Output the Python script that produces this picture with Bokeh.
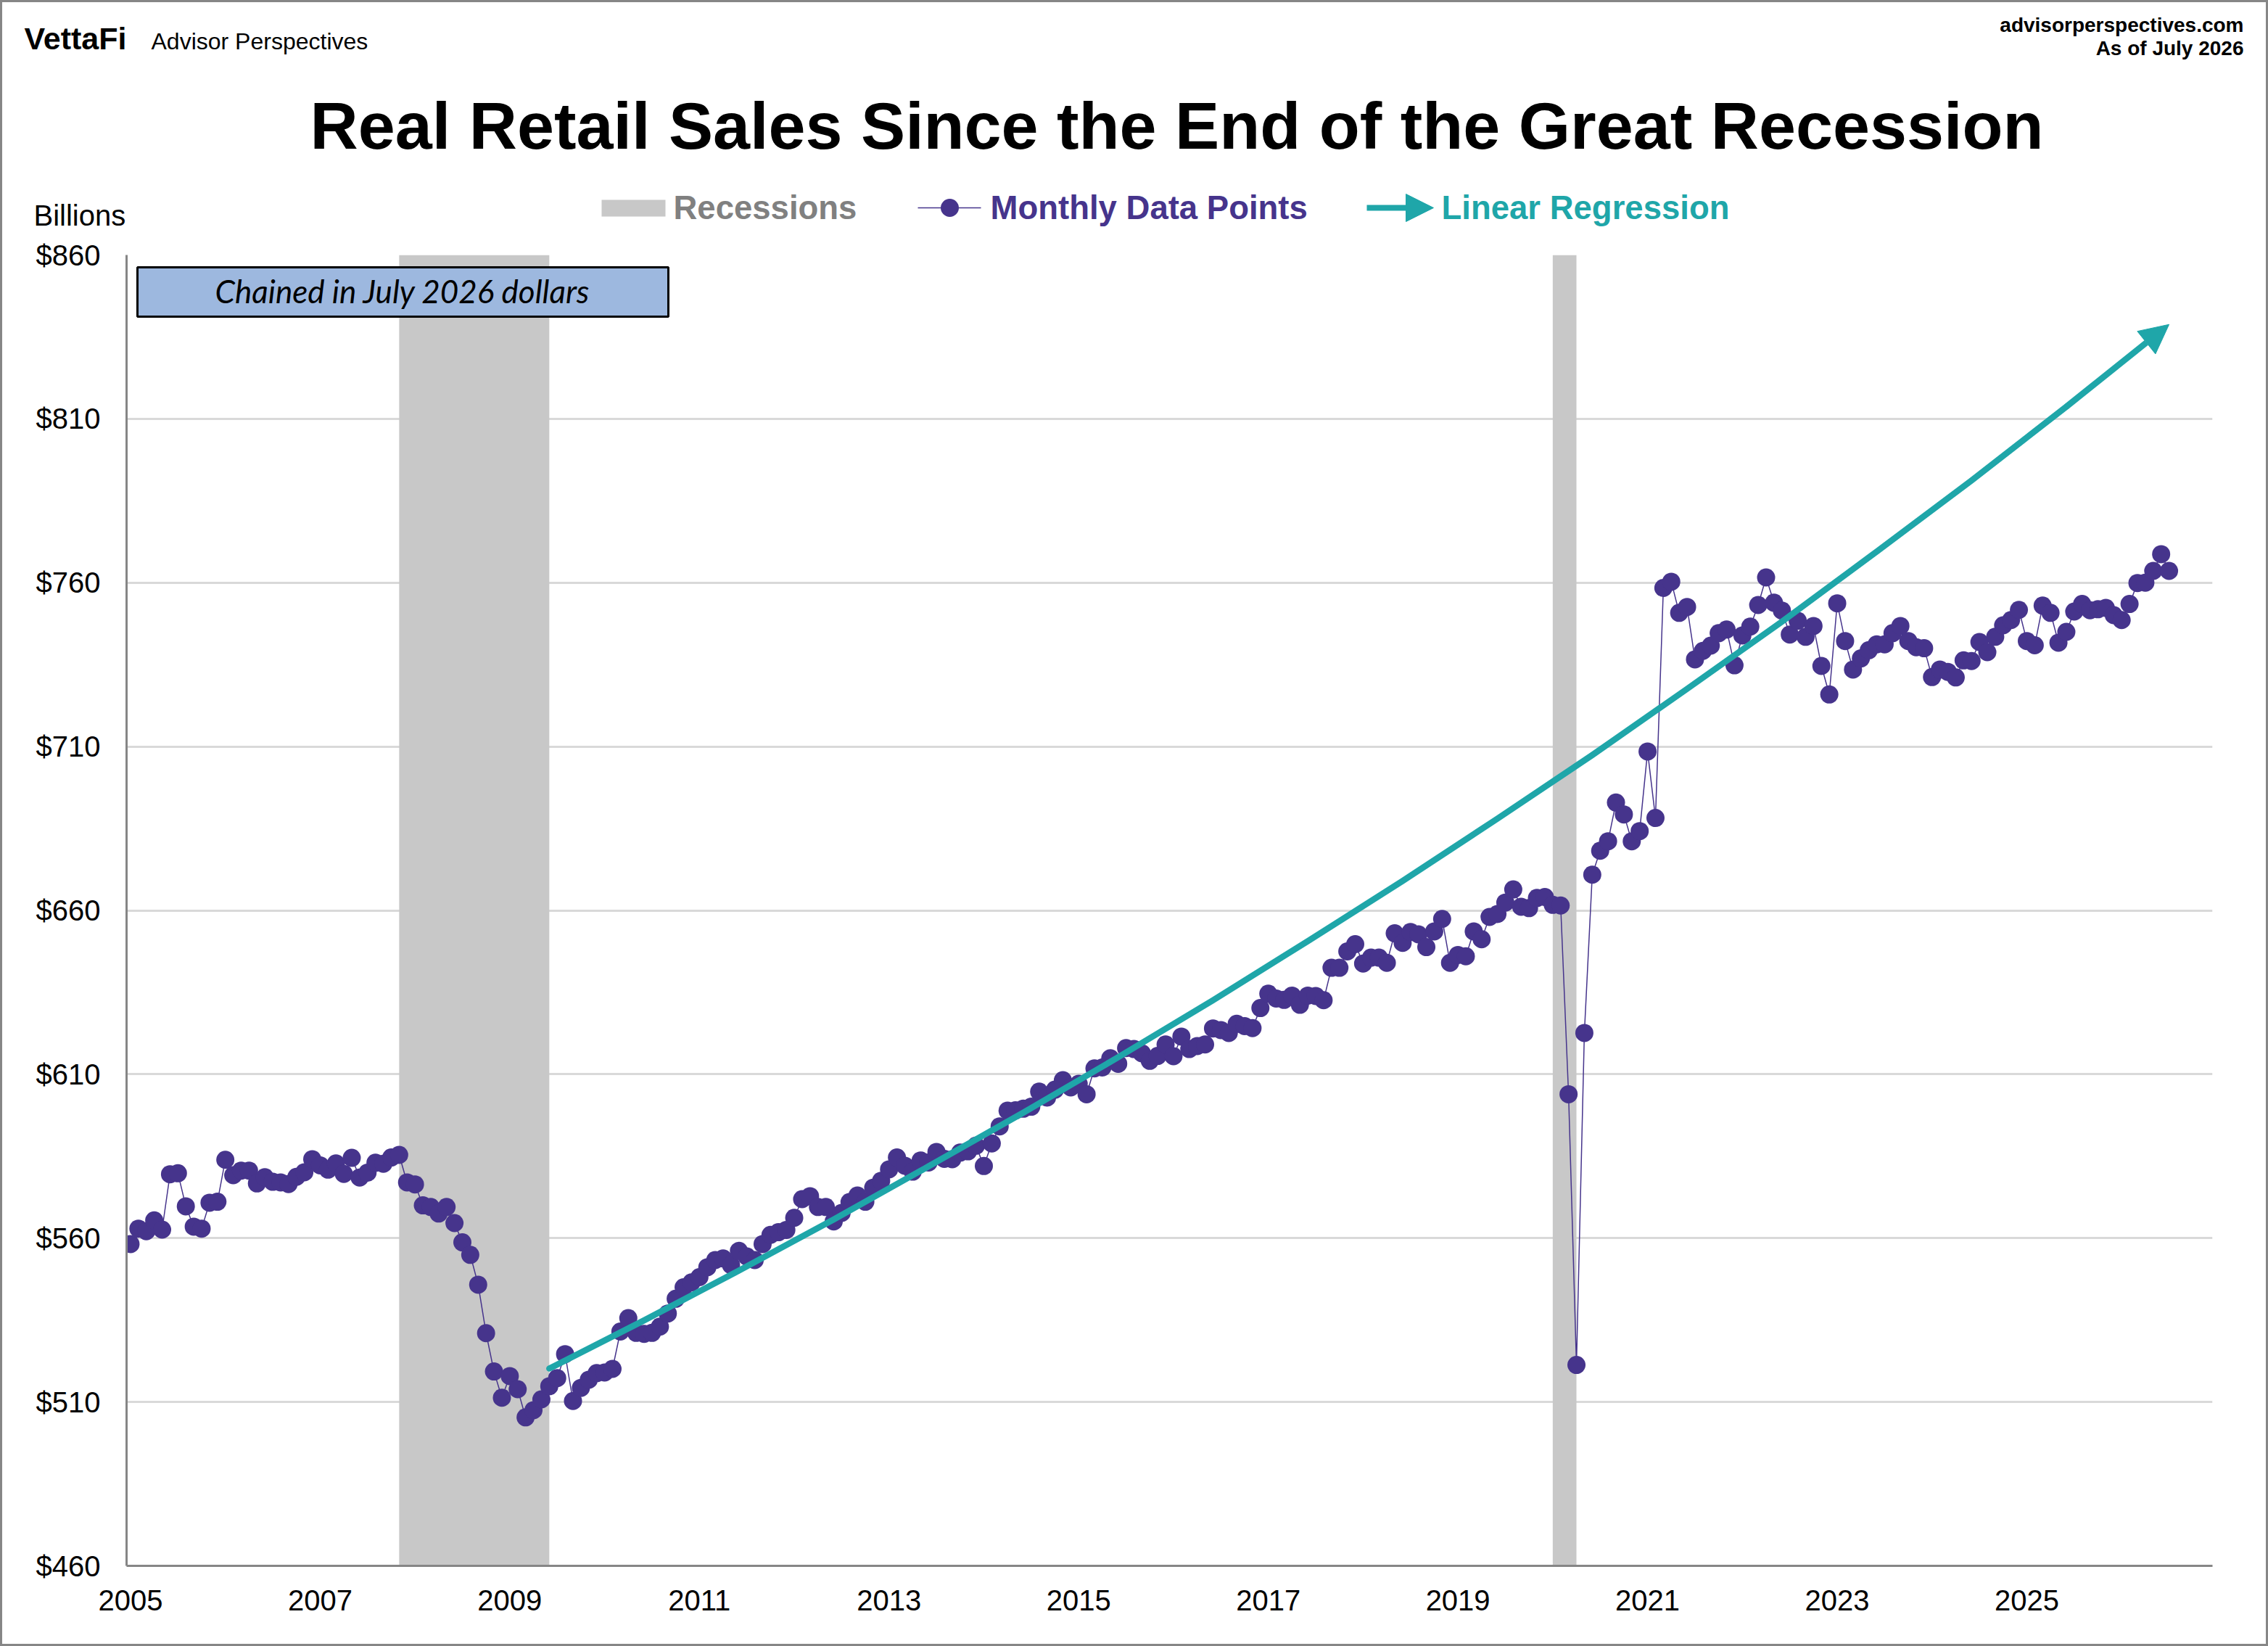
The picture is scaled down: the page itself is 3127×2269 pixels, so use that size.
from bokeh.embed import file_html
from bokeh.layouts import column
from bokeh.models import (Arrow, BoxAnnotation, FixedTicker, Label, NormalHead,
                          NumeralTickFormatter, Range1d)
from bokeh.plotting import figure
from bokeh.resources import INLINE

# Monthly real retail sales, $bn, Jan 2005 - Jul 2026
monthly_values = [
    558.2, 562.9, 562.1, 565.4, 562.6, 579.5, 579.8, 569.7, 563.5, 562.9, 570.8, 571.1,
    583.9, 579.2, 580.6, 580.6, 576.7, 578.6, 577.2, 577.0, 576.5, 578.7, 580.1, 584.1,
    582.2, 580.9, 582.8, 579.6, 584.5, 578.5, 580.0, 583.0, 582.7, 584.6, 585.4, 577.0,
    576.4, 570.0, 569.5, 567.5, 569.5, 564.6, 558.7, 554.9, 545.8, 531.0, 519.3, 511.3,
    517.9, 513.9, 505.3, 507.5, 510.8, 514.8, 517.3, 524.6, 510.3, 514.3, 516.8, 518.8,
    519.0, 520.1, 531.5, 535.6, 531.1, 530.8, 531.1, 533.0, 537.0, 541.5, 545.0, 546.5,
    548.1, 551.1, 553.3, 553.8, 551.8, 556.1, 554.4, 553.3, 558.2, 561.0, 561.8, 562.5,
    566.2, 571.9, 572.8, 569.5, 569.5, 565.1, 567.7, 571.0, 573.0, 571.1, 575.4, 577.5,
    581.0, 584.6, 582.1, 580.3, 583.7, 583.1, 586.3, 584.2, 584.1, 586.1, 586.5, 588.2,
    582.0, 588.9, 594.1, 598.9, 599.0, 599.5, 600.1, 604.7, 602.9, 605.3, 608.2, 606.0,
    607.1, 603.9, 611.8, 612.1, 614.9, 613.2, 618.0, 617.7, 616.4, 614.1, 615.6, 619.1,
    615.5, 621.5, 617.7, 618.6, 619.1, 624.0, 623.5, 622.6, 625.4, 624.7, 624.1, 630.2,
    634.6, 633.1, 632.7, 634.0, 631.2, 634.0, 633.9, 632.6, 642.5, 642.5, 647.5, 649.7,
    643.8, 645.6, 645.6, 644.0, 653.0, 650.1, 653.4, 652.7, 648.8, 653.6, 657.4, 644.0,
    646.4, 646.0, 653.6, 651.2, 658.0, 658.9, 662.4, 666.4, 661.1, 660.7, 663.8, 664.1,
    661.7, 661.5, 603.9, 521.3, 622.6, 670.9, 678.2, 681.1, 692.9, 689.3, 681.1, 684.2,
    708.5, 688.2, 758.4, 760.3, 750.8, 752.6, 736.6, 739.2, 740.8, 744.6, 745.7, 734.8,
    743.9, 746.6, 753.2, 761.6, 753.9, 751.5, 744.2, 748.4, 743.5, 746.8, 734.6, 725.9,
    753.7, 742.2, 733.5, 736.9, 739.4, 741.2, 741.2, 744.6, 746.8, 742.2, 740.3, 740.0,
    731.2, 733.5, 732.8, 731.1, 736.3, 736.1, 741.9, 738.8, 743.5, 747.0, 748.6, 751.7,
    742.2, 740.9, 753.0, 750.8, 741.7, 745.0, 751.2, 753.5, 751.6, 751.9, 752.3, 750.1,
    748.6, 753.5, 759.9, 760.0, 763.6, 768.7, 763.6,
]
month_index = list(range(len(monthly_values)))

# Regression path
regression_index = [53, 65, 77, 89, 101, 113, 125, 137, 149, 161, 173, 185, 197, 209, 221, 233, 245, 258]
regression_values = [520.2, 534.9, 550.1, 565.7, 581.9, 598.3, 615.2, 632.6, 650.6, 669.0, 688.0,
                     707.4, 727.6, 748.1, 769.5, 791.2, 813.7, 838.8]

# Recessions (month index, Nov 2007 - Jun 2009 and Jan 2020 - Apr 2020)
recession_start = [34, 180]
recession_end = [53, 183]

year_ticks = list(range(0, 252, 24))
year_labels = ["2005", "2007", "2009", "2011", "2013", "2015", "2017", "2019", "2021", "2023", "2025"]
value_ticks = [460, 510, 560, 610, 660, 710, 760, 810, 860]

PURPLE = "#46348C"
TEAL = "#1FA6A9"
RECESSION = "#C8C8C8"
AXIS = "#868686"
GRID = "#D9D9D9"
ARIAL = "Liberation Sans"
HEADER_H = 321  # height of the heading strip above the chart

# Heading strip: title, logo line, legend
head = figure(width=3127, height=HEADER_H, output_backend="svg", toolbar_location=None,
              x_range=Range1d(0, 3127), y_range=Range1d(HEADER_H, 0),
              x_axis_type=None, y_axis_type=None, min_border=0, frame_align=False,
              outline_line_color=None, background_fill_color=None, border_fill_color=None)
head.grid.visible = False

# Chart
p = figure(width=3127, height=2269 - HEADER_H, output_backend="svg", toolbar_location=None,
           x_range=Range1d(-0.5, 263.5), y_range=Range1d(460, 860),
           frame_width=2876, frame_height=1807, frame_align=False,
           min_border_left=174, min_border_right=77, min_border_top=351 - HEADER_H, min_border_bottom=111,
           outline_line_color=None, background_fill_color=None, border_fill_color=None)

for ax in (p.xaxis[0], p.yaxis[0]):
    ax.axis_line_color = AXIS
    ax.axis_line_width = 3
    ax.major_tick_line_color = None
    ax.minor_tick_line_color = None
    ax.major_label_text_font = ARIAL
    ax.major_label_text_font_size = "40px"
    ax.major_label_text_color = "black"

p.xaxis[0].ticker = FixedTicker(ticks=year_ticks)
p.xaxis[0].major_label_overrides = dict(zip(year_ticks, year_labels))
p.xaxis[0].major_label_standoff = 27
p.yaxis[0].ticker = FixedTicker(ticks=value_ticks)
p.yaxis[0].formatter = NumeralTickFormatter(format="$0")
p.yaxis[0].major_label_standoff = 30

p.xgrid.visible = False
p.ygrid[0].ticker = FixedTicker(ticks=value_ticks)
p.ygrid[0].grid_line_color = GRID
p.ygrid[0].grid_line_width = 3

p.quad(left=recession_start, right=recession_end, bottom=460, top=860,
       fill_color=RECESSION, line_color=None)
p.line(month_index, monthly_values, line_color=PURPLE, line_width=1.5)
p.scatter(month_index, monthly_values, size=25, marker="circle", fill_color=PURPLE, line_color=None)
p.line(regression_index[:-1], regression_values[:-1], line_color=TEAL, line_width=8.5,
       line_cap="round", line_join="round")


def text(fig, s, x, y, size, align="left", style="normal", font=ARIAL, color="black"):
    # y is the baseline of the text, in canvas pixels from the figure's top
    fig.add_layout(Label(text=s, x=x, y=y - 0.33 * size, x_units="canvas", y_units="canvas",
                         text_font=font, text_font_size=f"{size}px", text_font_style=style,
                         text_align=align, text_baseline="alphabetic", text_color=color))


text(head, "Real Retail Sales Since the End of the Great Recession", 1622, 203, 91.7, "center", "bold")
text(head, "VettaFi", 33, 67, 43, style="bold")
text(head, "Advisor Perspectives", 208, 67, 32)
text(head, "advisorperspectives.com", 3093, 43, 28, "right", "bold")
text(head, "As of July 2026", 3093, 75, 28, "right", "bold")
text(head, "Billions", 46, 310, 40)

# Legend keys and labels (the strip's scale is in pixels)
head.quad(left=[829], right=[917], top=[275], bottom=[298], fill_color=RECESSION, line_color=None)
text(head, "Recessions", 928, 301, 45.5, style="bold", color="#808080")
head.line([1265, 1352], [286, 286], line_color=PURPLE, line_width=1.5)
head.scatter([1309], [286], size=25, marker="circle", fill_color=PURPLE, line_color=None)
text(head, "Monthly Data Points", 1365, 301, 45.5, style="bold", color=PURPLE)
head.add_layout(Arrow(end=NormalHead(size=38, fill_color=TEAL, line_color=TEAL, line_width=1),
                      x_start=1884, y_start=286, x_end=1976, y_end=286,
                      line_color=TEAL, line_width=8))
text(head, "Linear Regression", 1987, 301, 45.5, style="bold", color=TEAL)

# Note box inside the plot
p.add_layout(BoxAnnotation(left=189, right=921, top=368 - HEADER_H, bottom=436 - HEADER_H,
                           left_units="canvas", right_units="canvas",
                           top_units="canvas", bottom_units="canvas",
                           fill_color="#9DB8DF", fill_alpha=1,
                           line_color="black", line_alpha=1, line_width=3))
text(p, "Chained in July 2026 dollars", 555, 415 - HEADER_H, 44, "center", "italic", "Lato")

# Regression arrow head
p.add_layout(Arrow(end=NormalHead(size=40, fill_color=TEAL, line_color=TEAL, line_width=1),
                   x_start=regression_index[-2], y_start=regression_values[-2],
                   x_end=regression_index[-1], y_end=regression_values[-1],
                   line_color=TEAL, line_width=8.5))

page = column(head, p, spacing=0,
              styles={"outline": f"3px solid {AXIS}", "outline-offset": "-3px"})

open("out.html", "w").write(file_html(page, INLINE))
